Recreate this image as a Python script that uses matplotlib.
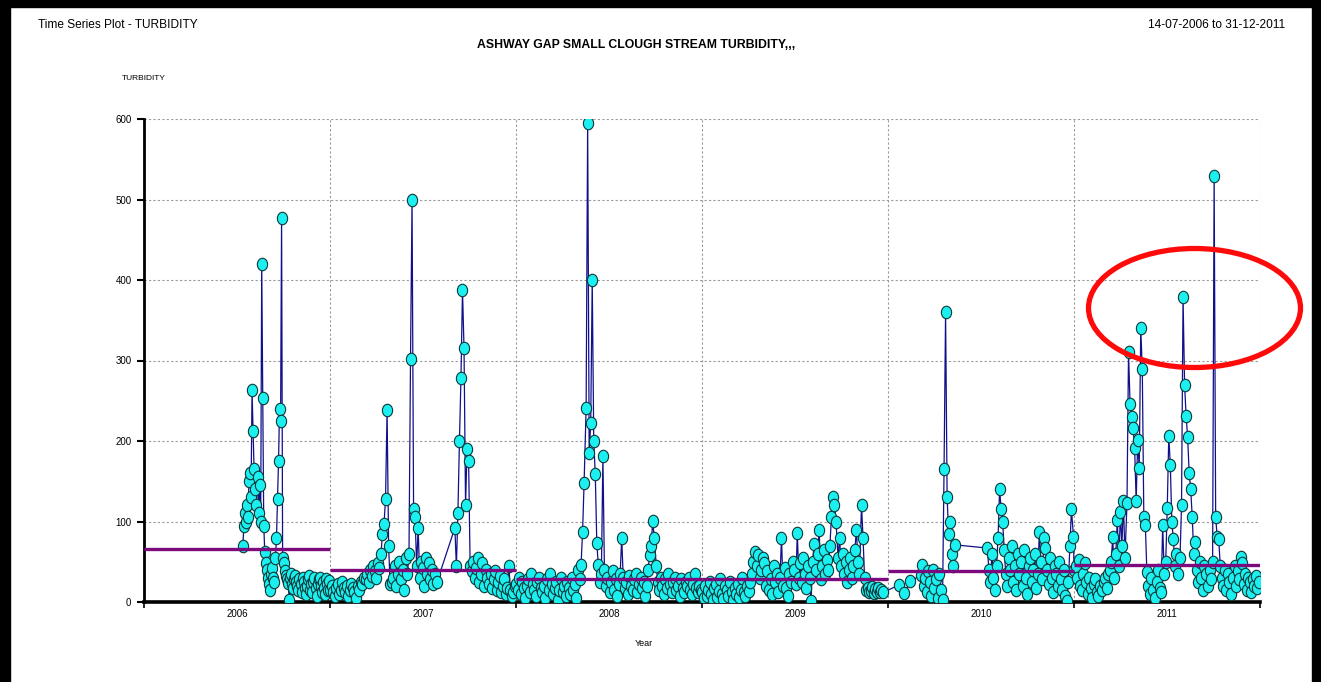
import matplotlib.pyplot as plt
from matplotlib.patches import Ellipse, Rectangle
from matplotlib.path import Path
import numpy as np
import pandas as pd

# Turbidity readings, grouped by sampling period (start date, end date, values)
vals_2006 = [70, 95, 110, 100, 120, 105, 150, 160, 130, 263, 213, 165, 140, 120, 155, 110, 145, 100, 420, 254,
             95, 62, 48, 40, 30, 22, 15, 35, 42, 30, 25, 55, 80, 128, 175, 240, 225, 477, 55, 48,
             38, 32, 28, 24, 3, 30, 35, 22, 18, 28, 32, 25, 20, 15, 28, 22, 12, 30, 25, 18,
             10, 20, 28, 32, 15, 22, 12, 25, 30, 18, 8, 22, 28, 30, 20, 12, 25, 18, 10, 28, 22, 15, 26]
vals_2007a = [15, 20, 12, 8, 18, 22, 10, 15, 25, 18, 12, 20, 8, 15, 22, 18, 12, 5, 20, 15, 25,
              22, 30, 28, 35, 25, 40, 32, 45, 38, 30, 48, 42,
              60, 85, 97, 128, 238, 70, 22, 25,
              30, 45, 20, 35, 50, 28, 40, 15, 55, 35, 60,
              302, 500, 115, 105, 45, 92, 30,
              50, 42, 20, 55, 35, 48, 28, 40, 22, 35, 25]
vals_2007b = [92, 45, 110, 200, 278, 388, 315, 120, 190, 175, 45, 38, 50, 30, 42, 55, 25, 35, 48, 20,
              40, 30, 22, 35, 18, 28, 38, 15, 25, 32, 12, 20, 28, 10, 18, 45, 15, 8, 12, 20]
vals_2008 = [22, 15, 30, 10, 25, 18, 5, 20, 28, 12, 35, 22, 15, 8, 25, 30, 18, 12, 20, 5,
             28, 15, 35, 22, 10, 18, 25, 3, 15, 30, 12, 20, 8, 25, 18, 10, 30, 15, 22, 5, 40, 28,
             46, 87, 148, 241, 595, 185, 222, 400, 200, 159, 73, 46,
             25, 35, 181, 40,
             20, 30, 12, 25, 38, 15, 28, 8, 22, 35,
             80,
             30, 18, 25, 10, 32, 20, 15, 28, 35, 12, 22, 30, 18, 25, 8, 20,
             40, 58, 70, 101, 80, 45,
             25, 15, 30, 20, 10, 28, 18, 35, 22, 12, 25, 30, 15, 20, 8, 28, 18, 12, 25, 20,
             30, 15, 10, 22, 35, 18, 12, 20, 15]
vals_2009 = [12, 5, 20, 8, 15, 25, 10, 3, 18, 22, 6, 14, 28, 10, 4, 20, 15, 8, 25, 12,
             2, 18, 10, 22, 6, 15, 30, 12, 8, 20, 14, 25,
             35, 50, 62, 45, 58, 30, 40, 55, 48, 20, 38,
             15, 28, 10, 45, 25, 35, 12, 30, 80, 20, 42, 18, 8, 35, 25, 50, 40, 22, 86, 30, 48,
             25, 55, 35, 18, 45, 30, 1, 50, 72, 40, 60, 89, 28, 45, 65, 35, 52,
             40, 70, 106, 130, 120, 100, 55, 80, 45, 60, 35, 50, 25, 40, 55, 30, 45, 65, 90, 50, 35,
             120, 80, 30,
             15, 18, 12, 14, 19, 11, 16, 13, 18, 12, 15, 12]
vals_2010a = [21, 11, 26]
vals_2010b = [33, 46, 20, 30, 12, 38, 25, 8, 40, 18, 28, 5, 35, 15, 2, 165, 360, 130, 85, 100, 60, 45, 71]
vals_2010c = [67, 40, 25, 60, 30, 15, 45, 80, 140, 115, 100, 65, 35, 20, 55, 40, 70, 25, 45, 15,
              60, 35, 50, 20, 65, 30, 10, 45, 55, 25, 40, 60, 18, 35, 87, 50, 28, 79, 67, 40,
              22, 55, 30, 12, 45, 35, 20, 50, 28, 15, 40, 8, 1, 25, 69, 115, 81]
vals_2011 = [40, 45, 30, 52, 20, 15, 35, 48, 25, 10, 30, 18, 5, 22, 28, 12, 8, 20, 15, 25, 30, 18, 35, 40,
             50, 81, 30, 60, 102, 45, 112, 70, 125, 55, 123,
             310, 246, 230, 216, 191, 125, 201, 166, 340, 290, 106, 96,
             37, 20, 10, 30, 15, 5, 25, 40, 18, 12,
             96, 35, 50, 117, 206, 170, 99, 78,
             45, 60, 35, 55, 120,
             379, 270, 231, 205, 160, 140, 106, 60,
             75, 40, 25, 50, 30, 15, 45, 35, 20, 40, 28, 50,
             529, 105, 81, 78,
             45, 30, 20, 40, 15, 35, 25, 10, 30, 45, 20, 38, 28, 56, 48, 22, 35, 15, 30, 25,
             12, 28, 20, 32, 18, 25]

periods = [
    ("2006-07-14", "2006-12-31", vals_2006),
    ("2007-01-01", "2007-07-30", vals_2007a),
    ("2007-09-03", "2007-12-31", vals_2007b),
    ("2008-01-01", "2008-12-31", vals_2008),
    ("2009-01-01", "2009-12-23", vals_2009),
    ("2010-01-22", "2010-02-14", vals_2010a),
    ("2010-03-06", "2010-05-13", vals_2010b),
    ("2010-07-15", "2010-12-31", vals_2010c),
    ("2011-01-01", "2011-12-31", vals_2011),
]

years = [2006, 2007, 2008, 2009, 2010, 2011]
year_means = [66, 39.5, 29, 28, 38.5, 45.5]


def frac_year(dates):
    d = pd.DatetimeIndex(dates)
    days = np.where(d.is_leap_year, 366, 365)
    return d.year + (d.dayofyear - 1) / days


xs, ys = [], []
for start, end, vals in periods:
    dates = pd.date_range(start, end, periods=len(vals))
    xs.extend(frac_year(dates))
    ys.extend(vals)

plt.rcParams['font.family'] = ['Liberation Sans', 'DejaVu Sans']

fig = plt.figure(figsize=(13.21, 6.82), dpi=100)
W, H = 1321, 682
ax = fig.add_axes([144 / W, 1 - 602 / H, (1260 - 144) / W, (602 - 119) / H])

# slightly tall oval marker
circ = Path.unit_circle()
oval = Path(circ.vertices * [0.82, 1.0], circ.codes)

ax.plot(xs, ys, color='#10108a', lw=0.9, zorder=2)
ax.plot(xs, ys, ls='none', marker=oval, ms=9, mfc='#1befef', mec='#0b3838', mew=0.8, zorder=3)

for yr, m in zip(years, year_means):
    ax.hlines(m, yr, yr + 1, color='#7d0a7d', lw=2.4, zorder=4)

ax.set_xlim(2006, 2012)
ax.set_ylim(0, 600)

ax.set_yticks(range(0, 601, 100))
ax.set_xticks(range(2006, 2013))
ax.set_xticklabels([])
ax.set_xticks([y + 0.5 for y in years], minor=True)
ax.set_xticklabels([str(y) for y in years], minor=True)
ax.tick_params(axis='x', which='minor', length=0, labelsize=7, pad=5)
ax.tick_params(axis='x', which='major', length=4, width=1.2, direction='out')
ax.tick_params(axis='y', length=5, width=1.5, labelsize=7, pad=4)

ax.grid(True, which='major', color='#9a9a9a', ls=(0, (2, 2)), lw=0.8)
ax.set_axisbelow(True)
for s in ['top', 'right']:
    ax.spines[s].set_visible(False)
ax.spines['left'].set_linewidth(2)
ax.spines['bottom'].set_linewidth(2.6)

fig.text(38 / W, 1 - 25 / H, "Time Series Plot - TURBIDITY", fontsize=8.6, va='center', ha='left')
fig.text(1285 / W, 1 - 25 / H, "14-07-2006 to 31-12-2011", fontsize=8.6, va='center', ha='right')
fig.text(636 / W, 1 - 45 / H, "ASHWAY GAP SMALL CLOUGH STREAM TURBIDITY,,,", fontsize=8.8,
         fontweight='bold', va='center', ha='center')
fig.text(144 / W, 1 - 78 / H, "TURBIDITY", fontsize=6, va='center', ha='center')
fig.text(644 / W, 1 - 644 / H, "Year", fontsize=6.5, va='center', ha='center')

# red ring around the 2011 peaks
fig.patches.append(Ellipse((1194.5 / W, 1 - 308 / H), 212 / W, 119 / H, transform=fig.transFigure,
                           fill=False, ec='#ff0a0a', lw=3.8, zorder=10))

# black frame on top, left and right
for x0, y0, w, h in [(0, 675, 1321, 7), (0, 0, 10, 682), (1312, 0, 9, 682)]:
    fig.patches.append(Rectangle((x0 / W, y0 / H), w / W, h / H, transform=fig.transFigure,
                                 color='black', zorder=11))

fig.savefig("out.png", dpi=100)
